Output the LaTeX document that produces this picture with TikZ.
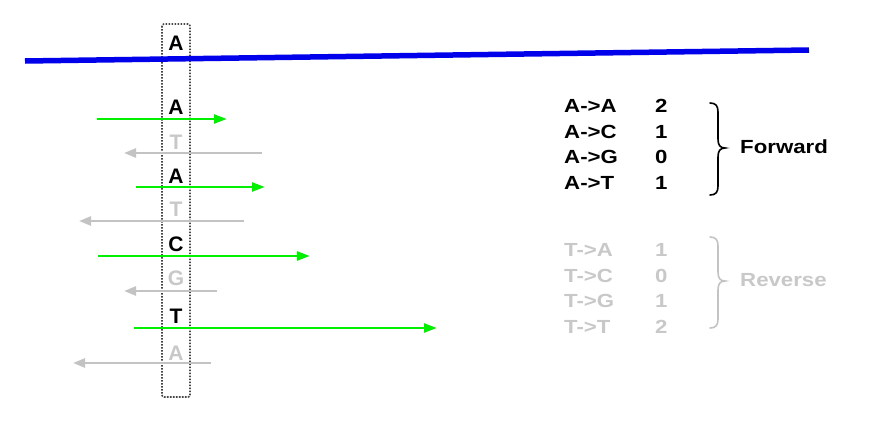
\documentclass[tikz,border=0pt]{standalone}
\usepackage{fontspec}
\setmainfont{Liberation Sans}
\newfontfamily\widefont{Liberation Sans}[FakeStretch=1.17]
\usetikzlibrary{arrows.meta}
\definecolor{fwdgreen}{RGB}{0,240,0}
\definecolor{revgray}{RGB}{195,195,195}
\definecolor{txtgray}{RGB}{200,200,200}
\definecolor{readblue}{RGB}{0,0,235}
\definecolor{boxgray}{RGB}{70,70,70}
\tikzset{
  base/.style={font=\fontsize{21}{21}\selectfont\bfseries, inner sep=0pt, anchor=center},
  basehi/.style={base, text=black},
  baselo/.style={base, text=txtgray},
  fwd/.style={draw=fwdgreen, line width=2.5pt, -{Triangle[length=13pt,width=9pt]}},
  rev/.style={draw=revgray, line width=2.5pt, -{Triangle[length=12pt,width=9pt]}},
  tab/.style={font=\widefont\fontsize{19}{19}\selectfont\bfseries, inner sep=0pt, anchor=west},
  tabhi/.style={tab, text=black},
  tablo/.style={tab, text=txtgray},
  bracehi/.style={draw=black, line width=1.6pt, line cap=round},
  bracelo/.style={draw=revgray, line width=1.6pt, line cap=round},
}
\begin{document}
\begin{tikzpicture}[x=1pt,y=-1pt]
\useasboundingbox (0,0) rectangle (871,426);
% column box
\draw[boxgray, line width=1.6pt, dash pattern=on 1.6pt off 1.4pt, rounded corners=2pt] (162,24) rectangle (190,397);
% reference
\coordinate (refL) at (25,61);
\coordinate (refR) at (809,50);
\draw[readblue, line width=5.5pt] (refL) -- (refR);
\node[basehi] (r0) at (176,43) {A};
% reads
\node[basehi] (r1) at (176,107.5) {A};
\node[baselo] (r2) at (176,142) {T};
\node[basehi] (r3) at (176,176) {A};
\node[baselo] (r4) at (176,209) {T};
\node[basehi] (r5) at (176,244) {C};
\node[baselo] (r6) at (176,278) {G};
\node[basehi] (r7) at (176,316.5) {T};
\node[baselo] (r8) at (176,353) {A};
\coordinate (f1s) at (97,119);  \coordinate (f1e) at (227,119);
\coordinate (b1s) at (262,153); \coordinate (b1e) at (124,153);
\coordinate (f2s) at (136,187); \coordinate (f2e) at (265,187);
\coordinate (b2s) at (244,221); \coordinate (b2e) at (79,221);
\coordinate (f3s) at (98,256);  \coordinate (f3e) at (310,256);
\coordinate (b3s) at (217,291); \coordinate (b3e) at (124,291);
\coordinate (f4s) at (134,328); \coordinate (f4e) at (437,328);
\coordinate (b4s) at (211,363); \coordinate (b4e) at (73,363);
\draw[fwd] (f1s) -- (f1e);
\draw[rev] (b1s) -- (b1e);
\draw[fwd] (f2s) -- (f2e);
\draw[rev] (b2s) -- (b2e);
\draw[fwd] (f3s) -- (f3e);
\draw[rev] (b3s) -- (b3e);
\draw[fwd] (f4s) -- (f4e);
\draw[rev] (b4s) -- (b4e);
% forward table
\node[tabhi] (fa) at (564,106) {A->A};  \node[tabhi] (fan) at (655,106) {2};
\node[tabhi] (fc) at (564,131.5) {A->C};\node[tabhi] (fcn) at (655,131.5) {1};
\node[tabhi] (fg) at (564,157) {A->G};  \node[tabhi] (fgn) at (655,157) {0};
\node[tabhi] (ft) at (564,182.5) {A->T};\node[tabhi] (ftn) at (655,182.5) {1};
\draw[bracehi] (710,103) .. controls (716,103) and (718,106) .. (718,112)
  -- (718,139) .. controls (718,145) and (720,148) .. (725,148)
  .. controls (720,148) and (718,151) .. (718,157)
  -- (718,186) .. controls (718,192) and (716,195) .. (710,195);
\node[tabhi] (fwdlab) at (740,147) {Forward};
% reverse table
\node[tablo] (ra) at (564,250) {T->A};   \node[tablo] (ran) at (655,250) {1};
\node[tablo] (rc) at (564,275.5) {T->C}; \node[tablo] (rcn) at (655,275.5) {0};
\node[tablo] (rg) at (564,301) {T->G};   \node[tablo] (rgn) at (655,301) {1};
\node[tablo] (rt) at (564,326.5) {T->T}; \node[tablo] (rtn) at (655,326.5) {2};
\draw[bracelo] (710,237) .. controls (716,237) and (718,240) .. (718,246)
  -- (718,272) .. controls (718,278) and (720,281) .. (725,281)
  .. controls (720,281) and (718,284) .. (718,290)
  -- (718,319) .. controls (718,325) and (716,328) .. (710,328);
\node[tablo] (revlab) at (740,280) {Reverse};
\end{tikzpicture}
\end{document}
